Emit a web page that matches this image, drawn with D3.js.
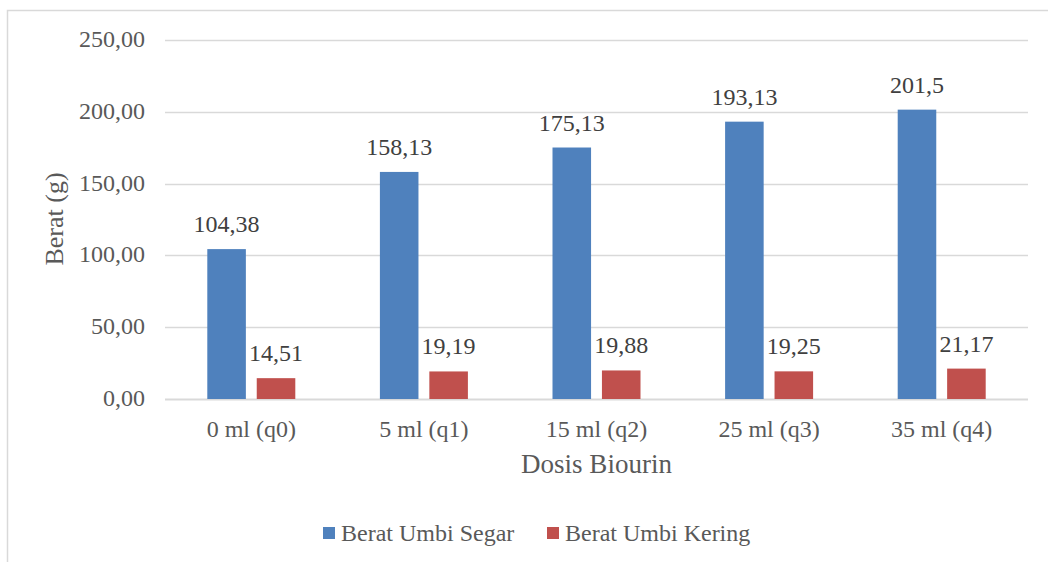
<!DOCTYPE html>
<html>
<head>
<meta charset="utf-8">
<script src="https://cdn.jsdelivr.net/npm/d3@7"></script>
<style>
  body { margin: 0; background: #fff; }
  text { font-family: "Liberation Serif", "Times New Roman", serif; }
</style>
</head>
<body>
<svg id="chart" width="1048" height="562"></svg>
<script>
var categories = ["0 ml (q0)", "5 ml (q1)", "15 ml (q2)", "25 ml (q3)", "35 ml (q4)"];
var seriesNames = ["Berat Umbi Segar", "Berat Umbi Kering"];
var segar = [104.38, 158.13, 175.13, 193.13, 201.5];
var kering = [14.51, 19.19, 19.88, 19.25, 21.17];
var segarLabels = ["104,38", "158,13", "175,13", "193,13", "201,5"];
var keringLabels = ["14,51", "19,19", "19,88", "19,25", "21,17"];
var yTicks = [0, 50, 100, 150, 200, 250];
var colors = ["#4f81bd", "#c0504d"];

var svg = d3.select("#chart");
var plot = { left: 165, right: 1028, top: 40, bottom: 399 };

// chart frame
svg.append("rect")
  .attr("x", 7.5).attr("y", 10.5)
  .attr("width", 1100).attr("height", 600)
  .attr("fill", "none")
  .attr("stroke", "#d9d9d9")
  .attr("stroke-width", 1.5);

var yScale = d3.scaleLinear()
  .domain([0, 250])
  .range([plot.bottom, plot.top]);

var x0 = d3.scaleBand()
  .domain(categories)
  .range([plot.left, plot.right]);

var x1 = d3.scaleBand()
  .domain(seriesNames)
  .range([0, 88])
  .paddingInner(0.22);

var offset = (x0.bandwidth() - 88) / 2;

// gridlines
svg.append("g")
  .selectAll("line")
  .data(yTicks)
  .enter()
  .append("line")
  .attr("x1", plot.left)
  .attr("x2", plot.right)
  .attr("y1", function(d) { return Math.round(yScale(d)) + 0.5; })
  .attr("y2", function(d) { return Math.round(yScale(d)) + 0.5; })
  .attr("stroke", "#d9d9d9")
  .attr("stroke-width", function(d) { return d === 0 ? 2 : 1.5; });

// y tick labels
svg.append("g")
  .selectAll("text")
  .data(yTicks)
  .enter()
  .append("text")
  .attr("x", 145)
  .attr("y", function(d) { return yScale(d) + 7; })
  .attr("text-anchor", "end")
  .attr("fill", "#595959")
  .style("font-size", "24px")
  .text(function(d) { return d3.format(".2f")(d).replace(".", ","); });

var rows = categories.map(function(c, i) {
  return { cat: c, vals: [segar[i], kering[i]], labels: [segarLabels[i], keringLabels[i]] };
});

var groups = svg.append("g")
  .selectAll("g")
  .data(rows)
  .enter()
  .append("g")
  .attr("transform", function(d) { return "translate(" + (x0(d.cat) + offset) + ",0)"; });

groups.selectAll("rect")
  .data(function(d) {
    return seriesNames.map(function(s, j) { return { s: s, v: d.vals[j], j: j }; });
  })
  .enter()
  .append("rect")
  .attr("x", function(d) { return x1(d.s); })
  .attr("y", function(d) { return yScale(d.v); })
  .attr("width", x1.bandwidth())
  .attr("height", function(d) { return yScale(0) - yScale(d.v); })
  .attr("fill", function(d) { return colors[d.j]; });

// data labels
groups.selectAll("text")
  .data(function(d) {
    return seriesNames.map(function(s, j) { return { s: s, v: d.vals[j], t: d.labels[j] }; });
  })
  .enter()
  .append("text")
  .attr("x", function(d) { return x1(d.s) + x1.bandwidth() / 2; })
  .attr("y", function(d) { return yScale(d.v) - 17; })
  .attr("text-anchor", "middle")
  .attr("fill", "#404040")
  .style("font-size", "24px")
  .text(function(d) { return d.t; });

// category labels
svg.append("g")
  .selectAll("text")
  .data(categories)
  .enter()
  .append("text")
  .attr("x", function(d) { return x0(d) + x0.bandwidth() / 2; })
  .attr("y", 437)
  .attr("text-anchor", "middle")
  .attr("fill", "#595959")
  .style("font-size", "24px")
  .text(function(d) { return d; });

// axis titles
svg.append("text")
  .attr("x", (plot.left + plot.right) / 2)
  .attr("y", 473)
  .attr("text-anchor", "middle")
  .attr("fill", "#595959")
  .style("font-size", "27px")
  .text("Dosis Biourin");

svg.append("text")
  .attr("transform", "translate(63,219) rotate(-90)")
  .attr("text-anchor", "middle")
  .attr("fill", "#595959")
  .style("font-size", "26px")
  .text("Berat (g)");

// legend
var legendX = [323, 547];
var legend = svg.append("g")
  .selectAll("g")
  .data(seriesNames)
  .enter()
  .append("g")
  .attr("transform", function(d, i) { return "translate(" + legendX[i] + ",0)"; });

legend.append("rect")
  .attr("x", 0).attr("y", 527)
  .attr("width", 12).attr("height", 12)
  .attr("fill", function(d, i) { return colors[i]; });

legend.append("text")
  .attr("x", 18)
  .attr("y", 541)
  .attr("fill", "#595959")
  .style("font-size", "24px")
  .text(function(d) { return d; });
</script>
</body>
</html>
